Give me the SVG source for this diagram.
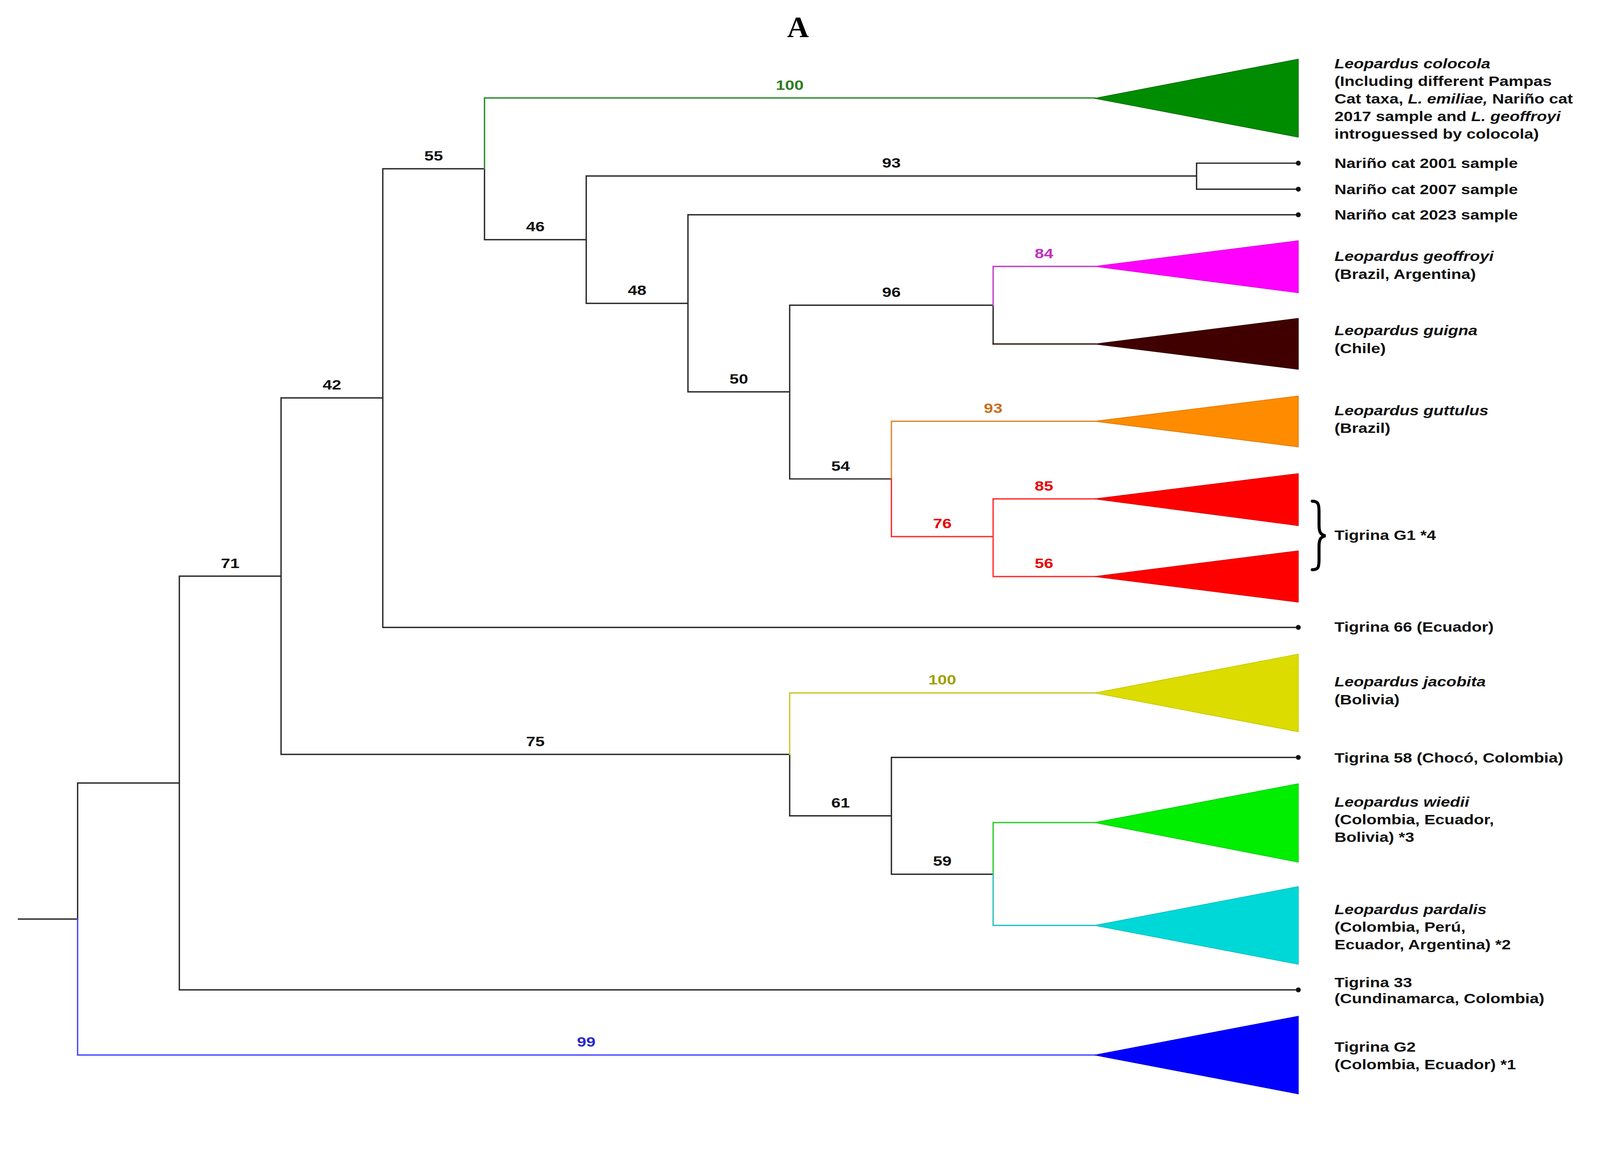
<svg xmlns="http://www.w3.org/2000/svg" width="4246" height="2959" viewBox="0 0 4246 2959">
<style>
.b{fill:none;stroke:#2a2a2a;stroke-width:3.6;stroke-linecap:square}
.g{stroke:#2a8a2a}.m{stroke:#c040c8}.o{stroke:#e08a30}.r{stroke:#ff3030}.y{stroke:#c8c830}.lg{stroke:#30d030}.c{stroke:#30c0c0}.bl{stroke:#4848ff}.dk{stroke:#3a1a1a}
.t{font-family:"Liberation Sans",Arial,Helvetica,sans-serif;font-weight:bold;font-size:36.5px;fill:#111}
.i{font-style:italic}
.s{font-family:"Liberation Sans",Arial,Helvetica,sans-serif;font-weight:bold;font-size:37px;text-anchor:middle;fill:#111}
.tri{stroke-width:2;stroke-linejoin:round}
</style>
<rect width="4246" height="2959" fill="#fff"/>
<g transform="scale(0.9645)">
<text x="2118" y="99" font-family="'Liberation Serif','Times New Roman',serif" font-weight="bold" font-size="80" text-anchor="middle">A</text>

<g id="connectors">
<path class="b" d="M49,2439 H206 M206,2078 V2439 M206,2078 H476 M476,1529 V2627 M476,1529 H746 M476,2627 H3446 M746,1056 V2002 M746,1056 H1016 M746,2002 H2096 M1016,448 V1665 M1016,448 H1286 M1016,1665 H3446 M1286,448 V636 M1286,636 H1556 M1556,467 V805 M1556,467 H3176 M3176,433 V502 M3176,433 H3446 M3176,502 H3446 M1556,805 H1826 M1826,570 V1040 M1826,570 H3446 M1826,1040 H2096 M2096,810 V1271 M2096,810 H2636 M2096,1271 H2366 M2636,810 V913 M2096,2002 V2165 M2096,2165 H2366 M2366,2010 V2320 M2366,2010 H3446 M2366,2320 H2636"/>
<path class="b dk" d="M2636,913 H2906"/>
<path class="b bl" d="M206,2439 V2800 H2906"/>
<path class="b g" d="M1286,448 V260 H2906"/>
<path class="b m" d="M2636,810 V707 H2906"/>
<path class="b o" d="M2366,1271 V1118 H2906"/>
<path class="b r" d="M2366,1271 V1424 H2636 M2636,1324 V1530 M2636,1324 H2906 M2636,1530 H2906"/>
<path class="b y" d="M2096,2002 V1839 H2906"/>
<path class="b lg" d="M2636,2320 V2183 H2906"/>
<path class="b c" d="M2636,2320 V2456 H2906"/>
<g fill="#111">
<circle cx="3446" cy="433" r="6.5"/><circle cx="3446" cy="502" r="6.5"/><circle cx="3446" cy="570" r="6.5"/>
<circle cx="3446" cy="1665" r="6.5"/><circle cx="3446" cy="2010" r="6.5"/><circle cx="3446" cy="2627" r="6.5"/>
</g>
</g>

<g id="support">
<text class="s" style="fill:#2e7d1e" transform="translate(2096,238) scale(1.2,1)">100</text>
<text class="s" transform="translate(1151,426) scale(1.2,1)">55</text>
<text class="s" transform="translate(2366,445) scale(1.2,1)">93</text>
<text class="s" transform="translate(1421,614) scale(1.2,1)">46</text>
<text class="s" transform="translate(1691,783) scale(1.2,1)">48</text>
<text class="s" style="fill:#c030c0" transform="translate(2771,685) scale(1.2,1)">84</text>
<text class="s" transform="translate(2366,788) scale(1.2,1)">96</text>
<text class="s" transform="translate(1961,1018) scale(1.2,1)">50</text>
<text class="s" style="fill:#c87020" transform="translate(2636,1096) scale(1.2,1)">93</text>
<text class="s" transform="translate(2231,1249) scale(1.2,1)">54</text>
<text class="s" style="fill:#e80000" transform="translate(2501,1402) scale(1.2,1)">76</text>
<text class="s" style="fill:#e80000" transform="translate(2771,1302) scale(1.2,1)">85</text>
<text class="s" style="fill:#e80000" transform="translate(2771,1508) scale(1.2,1)">56</text>
<text class="s" transform="translate(881,1034) scale(1.2,1)">42</text>
<text class="s" transform="translate(611,1507) scale(1.2,1)">71</text>
<text class="s" style="fill:#a0a000" transform="translate(2501,1817) scale(1.2,1)">100</text>
<text class="s" transform="translate(1421,1980) scale(1.2,1)">75</text>
<text class="s" transform="translate(2231,2143) scale(1.2,1)">61</text>
<text class="s" transform="translate(2501,2298) scale(1.2,1)">59</text>
<text class="s" style="fill:#2828d0" transform="translate(1556,2778) scale(1.2,1)">99</text>
</g>

<g id="colocola">
<polygon class="tri" fill="#008c00" stroke="#007000" points="2906,261 3446,157 3446,364"/>
<text class="t" transform="translate(3542,181) scale(1.2,1)"><tspan x="0" class="i">Leopardus colocola</tspan><tspan x="0" dy="46.7">(Including different Pampas</tspan><tspan x="0" dy="46.7">Cat taxa, <tspan class="i">L. emiliae,</tspan> Nariño cat</tspan><tspan x="0" dy="46.7">2017 sample and <tspan class="i">L. geoffroyi</tspan></tspan><tspan x="0" dy="46.7">introguessed by colocola)</tspan></text>
</g>
<g id="narino2001"><text class="t" transform="translate(3542,446) scale(1.2,1)">Nariño cat 2001 sample</text></g>
<g id="narino2007"><text class="t" transform="translate(3542,515) scale(1.2,1)">Nariño cat 2007 sample</text></g>
<g id="narino2023"><text class="t" transform="translate(3542,583) scale(1.2,1)">Nariño cat 2023 sample</text></g>
<g id="geoffroyi">
<polygon class="tri" fill="#ff00ff" stroke="#e000e0" points="2906,707 3446,639 3446,777"/>
<text class="t" transform="translate(3542,693) scale(1.2,1)"><tspan x="0" class="i">Leopardus geoffroyi</tspan><tspan x="0" dy="47">(Brazil, Argentina)</tspan></text>
</g>
<g id="guigna">
<polygon class="tri" fill="#400000" stroke="#300000" points="2906,913 3446,845 3446,980"/>
<text class="t" transform="translate(3542,890) scale(1.2,1)"><tspan x="0" class="i">Leopardus guigna</tspan><tspan x="0" dy="47">(Chile)</tspan></text>
</g>
<g id="guttulus">
<polygon class="tri" fill="#ff8c00" stroke="#e07800" points="2906,1118 3446,1051 3446,1186"/>
<text class="t" transform="translate(3542,1102) scale(1.2,1)"><tspan x="0" class="i">Leopardus guttulus</tspan><tspan x="0" dy="47">(Brazil)</tspan></text>
</g>
<g id="tigrinaG1">
<polygon class="tri" fill="#ff0000" stroke="#e00000" points="2906,1324 3446,1257 3446,1395"/>
<polygon class="tri" fill="#ff0000" stroke="#e00000" points="2906,1530 3446,1462 3446,1598"/>
<path d="M3483,1330 C3499,1330 3501,1338 3501,1358 L3501,1394 C3501,1412 3505,1419 3518,1422 C3505,1425 3501,1432 3501,1450 L3501,1486 C3501,1505 3499,1512 3483,1512" fill="none" stroke="#000" stroke-width="8" stroke-linecap="round"/>
<text class="t" transform="translate(3542,1433) scale(1.2,1)">Tigrina G1 *4</text>
</g>
<g id="tigrina66"><text class="t" transform="translate(3542,1677) scale(1.2,1)">Tigrina 66 (Ecuador)</text></g>
<g id="jacobita">
<polygon class="tri" fill="#dcdc00" stroke="#c8c800" points="2906,1839 3446,1736 3446,1942"/>
<text class="t" transform="translate(3542,1822) scale(1.2,1)"><tspan x="0" class="i">Leopardus jacobita</tspan><tspan x="0" dy="47">(Bolivia)</tspan></text>
</g>
<g id="tigrina58"><text class="t" transform="translate(3542,2024) scale(1.2,1)">Tigrina 58 (Chocó, Colombia)</text></g>
<g id="wiedii">
<polygon class="tri" fill="#00ee00" stroke="#00d000" points="2906,2183 3446,2080 3446,2288"/>
<text class="t" transform="translate(3542,2141) scale(1.2,1)"><tspan x="0" class="i">Leopardus wiedii</tspan><tspan x="0" dy="46.5">(Colombia, Ecuador,</tspan><tspan x="0" dy="46.5">Bolivia) *3</tspan></text>
</g>
<g id="pardalis">
<polygon class="tri" fill="#00d8d8" stroke="#00c0c0" points="2906,2456 3446,2353 3446,2559"/>
<text class="t" transform="translate(3542,2426) scale(1.2,1)"><tspan x="0" class="i">Leopardus pardalis</tspan><tspan x="0" dy="46.5">(Colombia, Perú,</tspan><tspan x="0" dy="46.5">Ecuador, Argentina) *2</tspan></text>
</g>
<g id="tigrina33"><text class="t" transform="translate(3542,2620) scale(1.2,1)"><tspan x="0">Tigrina 33</tspan><tspan x="0" dy="43">(Cundinamarca, Colombia)</tspan></text></g>
<g id="tigrinaG2">
<polygon class="tri" fill="#0000ff" stroke="#0000e0" points="2906,2800 3446,2697 3446,2903"/>
<text class="t" transform="translate(3542,2791) scale(1.2,1)"><tspan x="0">Tigrina G2</tspan><tspan x="0" dy="47">(Colombia, Ecuador) *1</tspan></text>
</g>
</g>
</svg>
